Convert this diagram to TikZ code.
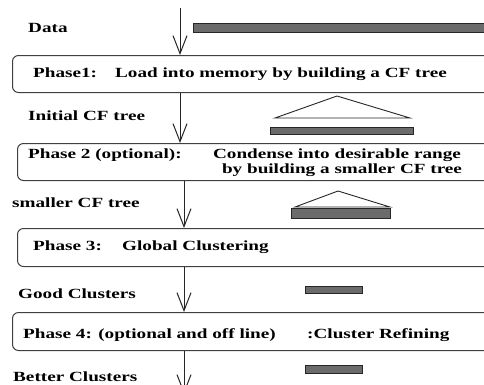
\documentclass[tikz,border=0pt]{standalone}
\usepackage{fontspec}
\setmainfont{Liberation Serif}
\usetikzlibrary{arrows.meta}
\newcommand{\wide}[1]{\scalebox{1.37}[1]{#1}}
\begin{document}
\begin{tikzpicture}[x=1pt,y=-1pt,
  phase/.style={draw=black!75, line width=1pt, rounded corners=6pt, anchor=north west, minimum width=500pt},
  bar/.style={draw=black!85, fill=black!58, line width=0.9pt},
  tri/.style={draw=black!85, line width=0.9pt},
  lbl/.style={font=\bfseries\fontsize{14}{16}\selectfont, anchor=base west, inner sep=0pt},
  arr/.style={draw=black!85, line width=1pt, -{Straight Barb[length=18pt,width=14pt,line width=1pt]}}]
\useasboundingbox (0,0) rectangle (484,384);
\clip (0,0) rectangle (484,384);
% phase boxes
\node[phase, minimum height=37pt] (box1) at (12,55) {};
\node[phase, minimum height=37pt] (box2) at (17,143) {};
\node[phase, minimum height=38pt] (box3) at (17,228) {};
\node[phase, minimum height=38pt] (box4) at (12,312) {};
% arrows
\coordinate (top) at (180,8);
\coordinate (bottom) at (184,394);
\draw[arr] (top) -- (top |- box1.north);
\draw[arr] (box1.south -| top) -- (box2.north -| top);
\draw[arr] (box2.south -| bottom) -- (box3.north -| bottom);
\draw[arr] (box3.south -| bottom) -- (box4.north -| bottom);
\draw[arr] (box4.south -| bottom) -- (bottom);
% bars and trees
\draw[bar] (193,23) rectangle (500,32);
\draw[tri] (275,118) -- (337,96) -- (410,118) -- cycle;
\draw[bar] (270,127) rectangle (413,134);
\draw[tri] (295,207) -- (338,191) -- (390,207) -- cycle;
\draw[bar] (291,208) rectangle (390,218);
\draw[bar] (305,286) rectangle (362,293);
\draw[bar] (305,365) rectangle (362,373);
% labels
\node[lbl] (data) at (28,32) {\wide{Data}};
\node[lbl] (p1a) at (33,77) {\wide{Phase1:}};
\node[lbl] (p1b) at (115,77) {\wide{Load into memory by building a CF tree}};
\node[lbl] (init) at (28,120) {\wide{Initial CF tree}};
\node[lbl] (p2a) at (28,158) {\wide{Phase 2 (optional):}};
\node[lbl, anchor=base] (p2b) at (337,158) {\wide{Condense into desirable range}};
\node[lbl, anchor=base] (p2c) at (342,173) {\wide{by building a smaller CF tree}};
\node[lbl] (small) at (12,207) {\wide{smaller CF tree}};
\node[lbl] (p3a) at (33,250) {\wide{Phase 3:}};
\node[lbl] (p3b) at (122,250) {\wide{Global Clustering}};
\node[lbl] (good) at (18,298) {\wide{Good Clusters}};
\node[lbl] (p4a) at (23,338) {\wide{Phase 4: (optional and off line)}};
\node[lbl] (p4b) at (307,338) {\wide{:Cluster Refining}};
\node[lbl] (better) at (13,381) {\wide{Better Clusters}};
\end{tikzpicture}
\end{document}
